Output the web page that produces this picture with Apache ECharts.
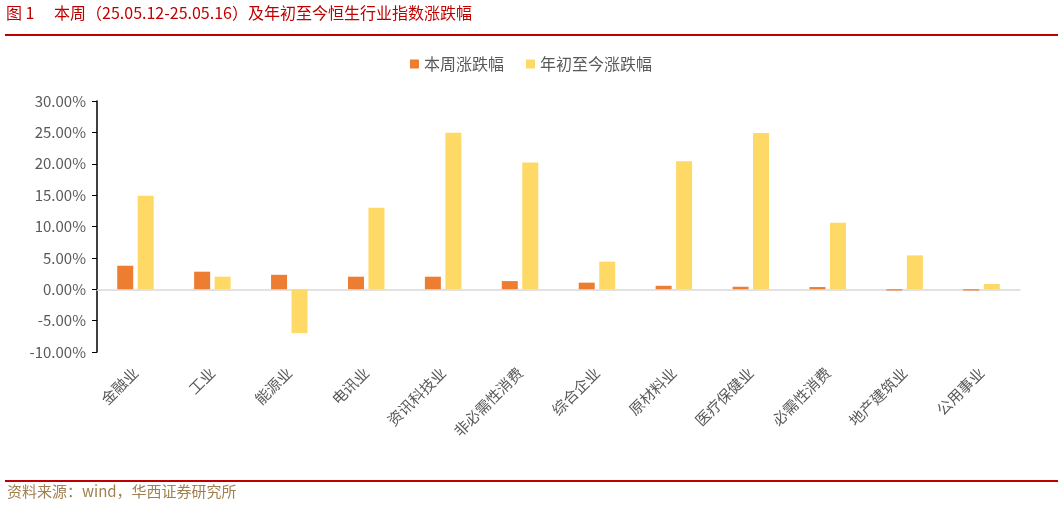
<!DOCTYPE html>
<html><head><meta charset="utf-8">
<script src="https://cdn.jsdelivr.net/npm/echarts@6/dist/echarts.min.js"></script>
<style>html,body{margin:0;padding:0;background:#fff}#c{width:1064px;height:508px}</style>
</head><body><div id="c"></div>
<script>
const categories = ['金融业','工业','能源业','电讯业','资讯科技业','非必需性消费','综合企业','原材料业','医疗保健业','必需性消费','地产建筑业','公用事业'];
const weekChange = [3.75, 2.8, 2.3, 2.0, 2.0, 1.3, 1.05, 0.55, 0.4, 0.35, -0.2, -0.2];
const ytdChange = [14.9, 2.0, -7.0, 13.0, 24.95, 20.2, 4.4, 20.4, 24.9, 10.6, 5.4, 0.85];
const yTicks = { min: -10, max: 30, interval: 5 };
const seriesNames = ['本周涨跌幅', '年初至今涨跌幅'];
const titleText = '图 1\u3000 本周（25.05.12-25.05.16）及年初至今恒生行业指数涨跌幅';
const sourceText = '资料来源：wind，华西证券研究所';

const FONT = '"Noto Sans CJK SC", "Noto Sans", sans-serif';
const chart = echarts.init(document.getElementById('c'));
chart.setOption({
  animation: false,
  textStyle: { fontFamily: FONT },
  grid: { left: 97, right: 44, top: 101, bottom: 156, containLabel: false },
  legend: {
    top: 51, left: 405, itemWidth: 9, itemHeight: 9, itemGap: 22,
    icon: 'rect',
    textStyle: { color: '#595959', fontSize: 16, fontFamily: FONT },
    data: seriesNames
  },
  xAxis: {
    type: 'category', data: categories,
    axisLine: { onZero: true, lineStyle: { color: '#d9d9d9', width: 1.5 } },
    axisTick: { show: false },
    axisLabel: { rotate: 45, color: '#595959', fontSize: 15, fontFamily: FONT, margin: 18, interval: 0 }
  },
  yAxis: {
    type: 'value', min: yTicks.min, max: yTicks.max, interval: yTicks.interval,
    axisLine: { show: true, lineStyle: { color: '#000', width: 1.5 } },
    axisTick: { show: true, inside: false, length: 5, lineStyle: { color: '#000' } },
    splitLine: { show: false },
    axisLabel: { color: '#595959', fontSize: 15, fontFamily: FONT, margin: 11,
      formatter: v => v.toFixed(2) + '%' }
  },
  series: [
    { name: seriesNames[0], type: 'bar', data: weekChange, barWidth: 16, barGap: '28%',
      itemStyle: { color: '#ED7D31' } },
    { name: seriesNames[1], type: 'bar', data: ytdChange, barWidth: 16,
      itemStyle: { color: '#FFD966' } }
  ],
  graphic: [
    { type: 'text', left: 6, top: 5, style: { text: titleText, fill: '#C00000', font: '16px ' + FONT } },
    { type: 'rect', shape: { x: 5, y: 34, width: 1053, height: 2 }, style: { fill: '#C00000' } },
    { type: 'rect', shape: { x: 5, y: 480, width: 1053, height: 2 }, style: { fill: '#C00000' } },
    { type: 'text', left: 7, top: 484, style: { text: sourceText, fill: '#A0804F', font: '15px ' + FONT } }
  ]
});
</script></body></html>
